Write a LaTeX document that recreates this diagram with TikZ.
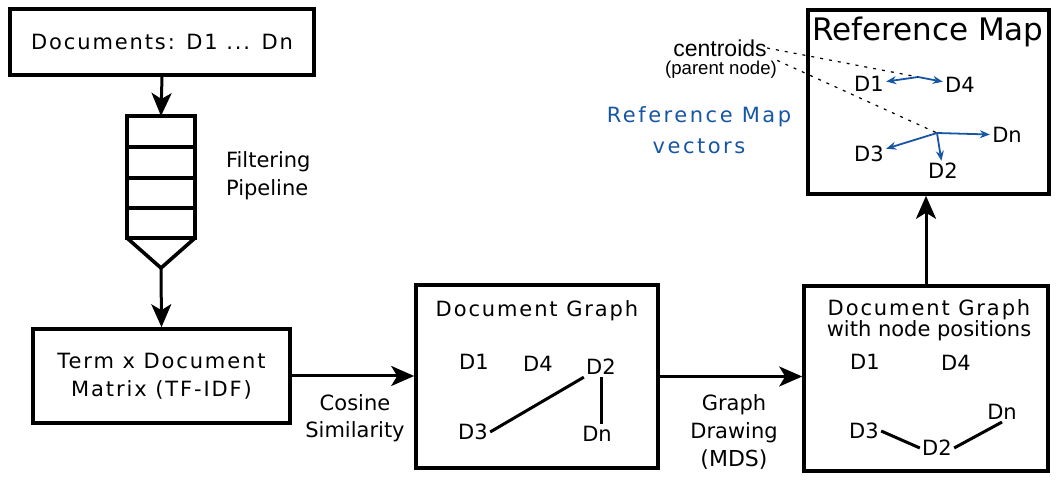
\documentclass[tikz,border=0pt]{standalone}
\usepackage{fontspec}
\setmainfont{DejaVu Sans}
\newfontfamily\spacedfont[LetterSpace=9]{DejaVu Sans}
\newfontfamily\widefont[LetterSpace=12]{DejaVu Sans}
\newfontfamily\arialfont{Liberation Sans}
\usetikzlibrary{arrows.meta}
\definecolor{vecblue}{RGB}{22,86,164}

\begin{document}
\begin{tikzpicture}[x=0.5pt,y=-0.5pt,
  box/.style={draw,line width=1.8pt,inner sep=0pt},
  flow/.style={line width=1.5pt,-{Stealth[length=11.5pt,width=10pt,inset=3pt]}},
  lbl/.style={font=\spacedfont\fontsize{10.5pt}{14pt}\selectfont,align=center},
  doc/.style={font=\fontsize{10.5pt}{12pt}\selectfont,inner sep=1pt},
  edge/.style={line width=1.5pt},
  vec/.style={vecblue,line width=0.9pt,-{Stealth[length=5pt,width=4pt]}}]
  \useasboundingbox (0,0) rectangle (1056,480);
  % documents and filtering pipeline
  \node[box,lbl,minimum width=152pt,minimum height=33pt] (docs) at (162,42) {Documents: D1 ... Dn};
  \draw[line width=1.8pt] (127,116) rectangle (195,238);
  \foreach \y in {147,178,208}
    \draw[line width=1.8pt] (127,\y) -- (195,\y);
  \draw[line width=1.8pt,line join=miter] (127,238) -- (161,268) -- (195,238);
  \coordinate (pipetop) at (161,116);
  \coordinate (pipebot) at (161,268);
  \node[font=\fontsize{10.5pt}{14pt}\selectfont,anchor=west,align=left] (filt) at (219,176) {Filtering\\Pipeline};
  \node[box,lbl,minimum width=128.5pt,minimum height=47pt] (term) at (161.5,376) {Term x Document\\Matrix (TF-IDF)};
  \draw[flow] (docs.south) -- (pipetop);
  \draw[flow] (pipebot) -- (term.north);
  % document graph
  \node[box,minimum width=121pt,minimum height=91.5pt] (graph) at (537,376.5) {};
  \node[lbl] (gtitle) at (537,311) {Document Graph};
  \node[doc] (g1) at (474,362) {D1};
  \node[doc] (g4) at (538,364) {D4};
  \node[doc] (g2) at (601,367) {D2};
  \node[doc] (g3) at (473,432) {D3};
  \node[doc] (gn) at (597,434) {Dn};
  \draw[edge] (g3.east) -- (g2.south west);
  \draw[edge] (g2.south) -- (g2.south |- gn.north);
  \draw[flow] (term.east) -- (term.east -| graph.west);
  \node[font=\fontsize{10.5pt}{13.5pt}\selectfont,align=center] (cos) at (355,418) {Cosine\\Similarity};
  % graph with positions
  \node[box,minimum width=122pt,minimum height=92.5pt] (pos) at (926,378.5) {};
  \node[align=center,font=\fontsize{10.5pt}{10.5pt}\selectfont] (ptitle) at (929,320) {{\spacedfont Document Graph}\\with node positions};
  \node[doc] (p1) at (865,362) {D1};
  \node[doc] (p4) at (956,363) {D4};
  \node[doc] (p3) at (864,431) {D3};
  \node[doc] (p2) at (937,448) {D2};
  \node[doc] (pn) at (1002,412) {Dn};
  \draw[edge] (p3.east) -- (p2.west);
  \draw[edge] (p2.east) -- (pn.south);
  \draw[flow] (graph.east) -- (graph.east -| pos.west);
  \node[font=\fontsize{10.5pt}{13.8pt}\selectfont,align=center] (mds) at (734,432) {Graph\\Drawing\\{\fontsize{11pt}{12pt}\selectfont(MDS)}};
  % reference map
  \node[box,minimum width=120.5pt,minimum height=92pt] (ref) at (928.5,102) {};
  \node[font=\fontsize{15.5pt}{18pt}\selectfont] (rtitle) at (928,32) {Reference Map};
  \node[doc] (r1) at (869,84) {D1};
  \node[doc] (r4) at (960,85) {D4};
  \node[doc] (rn) at (1007,135) {Dn};
  \node[doc] (r3) at (869,154) {D3};
  \node[doc] (r2) at (943,171) {D2};
  \coordinate (c1) at (918,77);
  \coordinate (c2) at (937,133);
  \draw[vec] (c1) -- (r1);
  \draw[vec] (c1) -- (r4);
  \draw[vec] (c2) -- (r3);
  \draw[vec] (c2) -- (r2);
  \draw[vec] (c2) -- (rn);
  \draw[flow] (pos.north) -- (pos.north |- ref.south);
  \node[font=\arialfont\fontsize{11.5pt}{12pt}\selectfont,inner sep=0pt] (cent) at (720,48) {centroids};
  \node[font=\arialfont\fontsize{9.3pt}{10pt}\selectfont,inner sep=0pt] (parent) at (721,69.5) {(parent node)};
  \draw[line width=0.6pt,dash pattern=on 1.5pt off 3pt] (cent.east) -- (c1);
  \draw[line width=0.6pt,dash pattern=on 1.5pt off 3pt] (parent.north east) -- (c2);
  \node[text=vecblue,align=center,font=\widefont\fontsize{10.5pt}{15.5pt}\selectfont] (vlabel) at (699,130.5) {Reference Map\\vectors};
\end{tikzpicture}
\end{document}
